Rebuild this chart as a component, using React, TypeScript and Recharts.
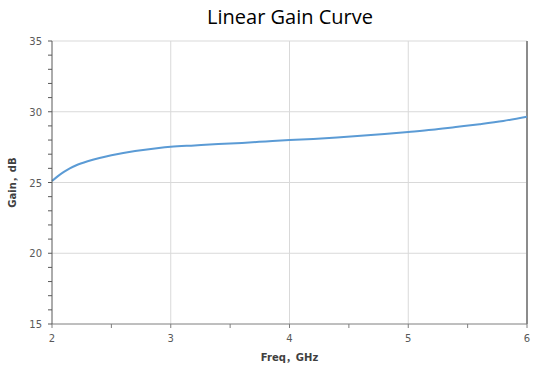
import React from 'react';
import {
  LineChart, Line, XAxis, YAxis, CartesianGrid, ReferenceLine, Label
} from 'recharts';

// frequency in GHz, gain in dB
const freqs = [2.0, 2.05, 2.1, 2.15, 2.2, 2.3, 2.4, 2.5, 2.6, 2.7, 2.8, 2.9, 3.0, 3.2, 3.4, 3.6, 3.8, 4.0, 4.2, 4.4, 4.6, 4.8, 5.0, 5.2, 5.4, 5.6, 5.8, 6.0];
const gains = [25.1, 25.45, 25.75, 26.0, 26.2, 26.5, 26.73, 26.92, 27.08, 27.22, 27.34, 27.44, 27.52, 27.62, 27.72, 27.8, 27.9, 28.0, 28.08, 28.18, 28.3, 28.43, 28.57, 28.72, 28.92, 29.12, 29.35, 29.65];

const xTicks = [2, 2.5, 3, 3.5, 4, 4.5, 5, 5.5, 6];
const yTicks = [15, 16, 17, 18, 19, 20, 21, 22, 23, 24, 25, 26, 27, 28, 29, 30, 31, 32, 33, 34, 35];

const data = freqs.map((f, i) => ({ freq: f, gain: gains[i] }));

const tickFont = 'DejaVu Sans, Verdana, sans-serif';

const YTick = (props: any) => {
  const { x, y, payload } = props;
  if (payload.value % 5 !== 0) return <g />;
  return (
    <text x={x} y={y} dy={4} textAnchor="end" fontSize={10} fill="#595959" fontFamily={tickFont}>
      {payload.value}
    </text>
  );
};

const XTick = (props: any) => {
  const { x, y, payload } = props;
  if (payload.value % 1 !== 0) return <g />;
  return (
    <text x={x} y={y} dy={10} textAnchor="middle" fontSize={10} fill="#595959" fontFamily={tickFont}>
      {payload.value}
    </text>
  );
};

const App: React.FC = () => {
  return (
    <div style={{ position: 'absolute', left: 0, top: 0, width: 533, height: 369, background: '#fff' }}>
      <div style={{
        position: 'absolute', left: 0, width: 580, top: 3, textAlign: 'center',
        fontFamily: 'Open Sans, Lato, sans-serif', fontSize: 20, color: '#000'
      }}>
        Linear Gain Curve
      </div>
      <LineChart width={533} height={369} data={data} margin={{ top: 41, right: 6, bottom: 0, left: 0 }}>
        <CartesianGrid stroke="#d9d9d9" strokeWidth={1} horizontalValues={[20, 25, 30, 35]} verticalValues={[3, 4, 5]} />
        <XAxis
          dataKey="freq"
          type="number"
          domain={[2, 6]}
          ticks={xTicks}
          interval={0}
          height={45}
          stroke="#7f7f7f"
          tickSize={4}
          tickMargin={4}
          tick={<XTick />}
        >
          <Label value="Freq，GHz" position="insideBottom" offset={8} fontSize={10} fontWeight="bold" fill="#404040" fontFamily="DejaVu Sans, Noto Sans CJK SC, sans-serif" />
        </XAxis>
        <YAxis
          type="number"
          domain={[15, 35]}
          ticks={yTicks}
          interval={0}
          width={52}
          stroke="#595959"
          tickSize={4}
          tickMargin={6}
          tick={<YTick />}
        >
          <Label value="Gain，dB" angle={-90} position="insideLeft" offset={12} fontSize={10} fontWeight="bold" fill="#404040" fontFamily="DejaVu Sans, Noto Sans CJK SC, sans-serif" style={{ textAnchor: 'middle' }} />
        </YAxis>
        <ReferenceLine x={6} stroke="#8c8c8c" strokeWidth={2} />
        <Line
          type="monotone"
          dataKey="gain"
          stroke="#5b9bd5"
          strokeWidth={2}
          dot={false}
          isAnimationActive={false}
        />
      </LineChart>
    </div>
  );
};

export default App;
